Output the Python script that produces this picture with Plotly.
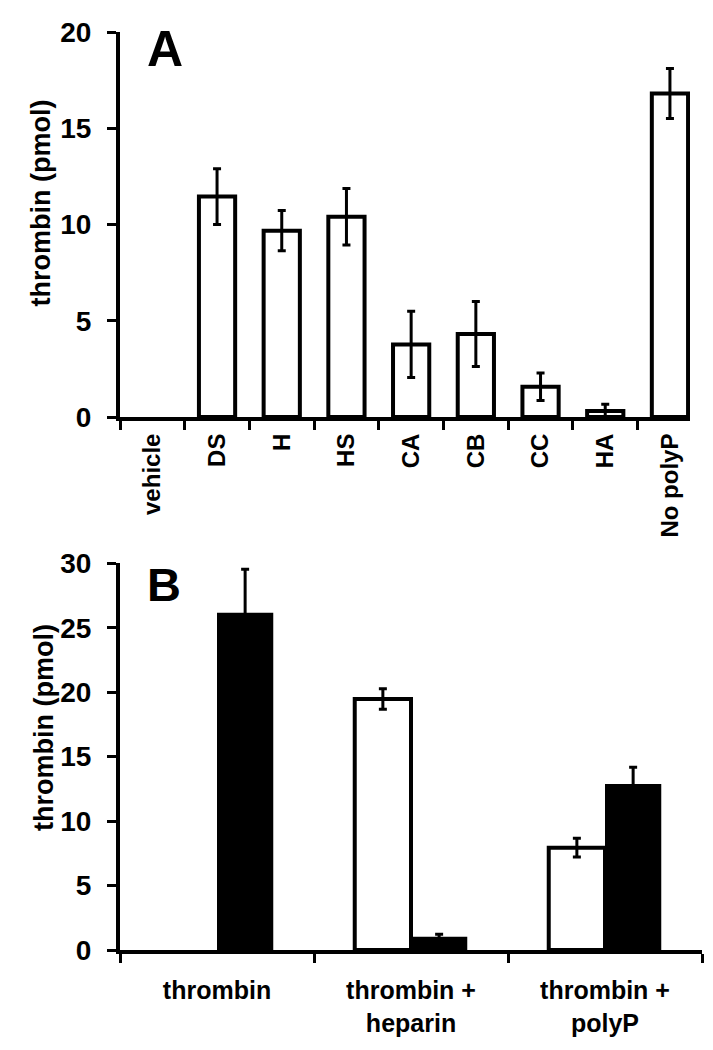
import plotly.graph_objects as go

# Panel A data
cats_a = ["vehicle", "DS", "H", "HS", "CA", "CB", "CC", "HA", "No polyP"]
vals_a = [0, 11.45, 9.68, 10.4, 3.77, 4.31, 1.57, 0.31, 16.81]
err_a = [0, 1.45, 1.05, 1.47, 1.72, 1.69, 0.71, 0.35, 1.3]

# Panel B data
cats_b = ["thrombin", "thrombin +<br>heparin", "thrombin +<br>polyP"]
vals_b_white = [0, 19.47, 7.94]
err_b_white = [0, 0.8, 0.73]
vals_b_black = [26.17, 1.03, 12.88]
err_b_black = [3.36, 0.2, 1.3]

W, H = 713, 1050
OFF = 8  # default page body margin
FONT = "Liberation Sans, Arial, sans-serif"

def px_x(p):
    return (p - OFF) / W

def px_y(p):
    return 1 - (p - OFF) / H

def shown(vals):
    # zero-height bars are invisible in the original; skip them (and their caps)
    return [None if v == 0 else v for v in vals]

fig = go.Figure()

fig.add_trace(go.Bar(
    x=cats_a, y=shown(vals_a), xaxis="x", yaxis="y",
    width=0.56,
    marker=dict(color="white", line=dict(color="black", width=4)),
    error_y=dict(type="data", array=err_a, visible=True, color="black", thickness=3, width=4),
    showlegend=False,
))

fig.add_trace(go.Bar(
    x=cats_b, y=shown(vals_b_white), xaxis="x2", yaxis="y2",
    marker=dict(color="white", line=dict(color="black", width=4)),
    error_y=dict(type="data", array=err_b_white, visible=True, color="black", thickness=3, width=4),
    showlegend=False, offsetgroup="w",
))
fig.add_trace(go.Bar(
    x=cats_b, y=shown(vals_b_black), xaxis="x2", yaxis="y2",
    marker=dict(color="black", line=dict(color="black", width=0)),
    error_y=dict(type="data", array=err_b_black, visible=True, color="black", thickness=3, width=4),
    showlegend=False, offsetgroup="b",
))

tickfont = dict(family=FONT, size=28, color="black", weight="bold")
catfont_a = dict(family=FONT, size=24, color="black", weight="bold")
catfont_b = dict(family=FONT, size=25, color="black", weight="bold")

axis_common = dict(showgrid=False, zeroline=False, showline=True, linecolor="black",
                   linewidth=4, ticks="outside", tickcolor="black", tickwidth=3, ticklen=9,
                   automargin=False)

fig.update_layout(
    template="none",
    width=W, height=H,
    margin=dict(l=0, r=0, t=0, b=0, pad=0),
    paper_bgcolor="white", plot_bgcolor="white",
    barmode="group", bargap=0.42, bargroupgap=0,
    xaxis=dict(domain=[px_x(120), px_x(690)], anchor="y", type="category",
               range=[-0.5, 8.31], tickson="boundaries", tickangle=-90,
               tickfont=catfont_a, ticklabelstandoff=3, **axis_common),
    yaxis=dict(domain=[px_y(417), px_y(32)], anchor="x", range=[0, 20], dtick=5,
               tickfont=tickfont, ticklabelstandoff=10, **axis_common),
    xaxis2=dict(domain=[px_x(120), px_x(702)], anchor="y2", type="category",
                range=[-0.5, 2.5], tickson="boundaries",
                tickfont=catfont_b, ticklabelstandoff=15, **axis_common),
    yaxis2=dict(domain=[px_y(950), px_y(563.3)], anchor="x2", range=[0, 30], dtick=5,
                tickfont=tickfont, ticklabelstandoff=10, **axis_common),
    annotations=[
        dict(text="thrombin (pmol)", xref="paper", yref="paper", x=px_x(40.5), y=px_y(203),
             textangle=-90, showarrow=False, xanchor="center", yanchor="middle",
             font=dict(family=FONT, size=27, color="black", weight="bold")),
        dict(text="thrombin (pmol)", xref="paper", yref="paper", x=px_x(44), y=px_y(728),
             textangle=-90, showarrow=False, xanchor="center", yanchor="middle",
             font=dict(family=FONT, size=27, color="black", weight="bold")),
        dict(text="A", xref="paper", yref="paper", x=px_x(164.5), y=px_y(48.5),
             showarrow=False, xanchor="center", yanchor="middle",
             font=dict(family=FONT, size=50, color="black", weight="bold")),
        dict(text="B", xref="paper", yref="paper", x=px_x(164), y=px_y(584.5),
             showarrow=False, xanchor="center", yanchor="middle",
             font=dict(family=FONT, size=47, color="black", weight="bold")),
    ],
)

fig.write_html("out.html")
